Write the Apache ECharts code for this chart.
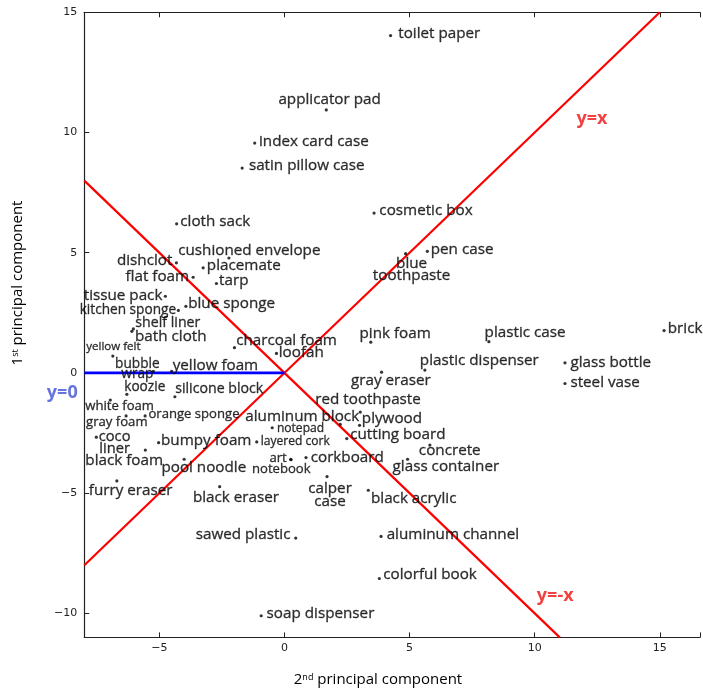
<!DOCTYPE html>
<html><head><meta charset="utf-8">
<script src="https://cdn.jsdelivr.net/npm/echarts@6/dist/echarts.min.js"></script>
<style>html,body{margin:0;padding:0;background:#fff}#c{width:703px;height:691px}</style>
</head><body><div id="c"></div>
<script>
// ---- data ----
const itemNames = [
  'toilet paper','applicator pad','index card case','satin pillow case','cosmetic box',
  'cloth sack','cushioned envelope','pen case','blue\ntoothpaste','dishclot',
  'placemate','flat foam','tarp','tissue pack','blue sponge',
  'kitchen sponge','shelf liner','bath cloth','pink foam','plastic case',
  'brick','charcoal foam','loofah','yellow felt','plastic dispenser',
  'glass bottle','gray eraser','bubble\nwrap','yellow foam','steel vase',
  'koozie','silicone block','white foam','red toothpaste','orange sponge',
  'gray foam','aluminum block','plywood','notepad','coco\nliner',
  'cutting board','layered cork','bumpy foam','concrete','black foam',
  'corkboard','art','notebook','glass container','pool noodle',
  'calper\ncase','furry eraser','black eraser','black acrylic','aluminum channel',
  'sawed plastic','colorful book','soap dispenser'
];
// 2nd principal component (x)
const pc2 = [
  4.24, 1.67, -1.19, -1.69, 3.58,
  -4.31, -2.22, 5.71, 4.84, -4.32,
  -3.25, -3.65, -2.72, -4.76, -3.94,
  -4.24, -6.04, -6.10, 3.45, 8.17,
  15.17, -2.00, -0.32, -6.86, 5.61,
  11.21, 3.88, -5.24, -4.51, 11.21,
  -6.30, -4.38, -6.96, 3.03, -5.57,
  -6.33, 2.23, 3.00, -0.49, -7.52,
  2.49, -1.11, -5.03, 5.81, -5.56,
  0.86, 0.25, 0.26, 4.92, -4.01,
  1.70, -6.70, -2.59, 3.35, 3.86,
  0.45, 3.79, -0.93
];
// 1st principal component (y)
const pc1 = [
  14.03, 10.94, 9.56, 8.52, 6.65,
  6.20, 4.78, 5.06, 4.96, 4.58,
  4.37, 3.98, 3.72, 3.19, 2.77,
  2.60, 1.83, 1.73, 1.28, 1.30,
  1.76, 1.05, 0.81, 0.70, 0.12,
  0.42, 0.03, 0.07, 0.07, -0.44,
  -0.89, -0.99, -1.13, -1.63, -1.79,
  -1.79, -2.14, -2.18, -2.28, -2.67,
  -2.73, -2.87, -2.90, -3.00, -3.21,
  -3.52, -3.59, -3.61, -3.59, -3.59,
  -4.31, -4.49, -4.73, -4.88, -6.80,
  -6.87, -8.55, -10.10
];
const lineYeqX = [[-8, -8], [15, 15]];
const lineYeqNegX = [[-8, 8], [11, -11]];
const lineY0 = [[-8, 0], [0, 0]];
const annoNames = ['y=x', 'y=-x', 'y=0'];
const annoX = [12.29, 10.82, -8.88];
const annoY = [10.57, -9.28, -0.85];

// ---- label placement (style, not data): [dx, dy, align, fontSize, lineHeight]
const place = {
  'toilet paper':[7.7,-2.4,'left',14.5],
  'applicator pad':[3.3,-10,'center',14.5],
  'index card case':[4.3,-1.6,'left',14.5],
  'satin pillow case':[6.7,-2.6,'left',14.5],
  'cosmetic box':[5.3,-2.3,'left',14.5],
  'cloth sack':[3.7,-2.3,'left',14.5],
  'cushioned envelope':[-50.7,-7.6,'left',14.5],
  'pen case':[3.4,-1.7,'left',14.5],
  'blue\ntoothpaste':[6,16,'center',14.5,12],
  'dishclot':[-4,-2.3,'right',14.5],
  'placemate':[3.7,-2.3,'left',14.5],
  'flat foam':[-4,-0.4,'right',14.5],
  'tarp':[2.7,-3,'left',14.5],
  'tissue pack':[-3,-1,'right',14.5],
  'blue sponge':[2.3,-2.4,'left',14.5],
  'kitchen sponge':[-2.3,-0.7,'right',13],
  'shelf liner':[2,-5.7,'left',13.5],
  'bath cloth':[3.2,5.2,'left',14.5],
  'pink foam':[-11.3,-8.4,'left',14.5],
  'plastic case':[-4.3,-9,'left',14.5],
  'brick':[3.7,-2,'left',14.5],
  'charcoal foam':[1.7,-6.6,'left',14.5],
  'loofah':[2.3,-0.7,'left',14.5],
  'yellow felt':[-26.6,-9.4,'left',11],
  'plastic dispenser':[-5,-9,'left',14.5],
  'glass bottle':[5.4,-0.6,'left',14.5],
  'gray eraser':[-30.6,8,'left',14.5],
  'bubble\nwrap':[-16,-1.7,'center',13,10],
  'yellow foam':[1,-6,'left',14.5],
  'steel vase':[5.4,-1.3,'left',14.5],
  'koozie':[-2.6,-7.7,'left',13],
  'silicone block':[0.3,-8,'left',13.5],
  'white foam':[-25,6,'left',12.5],
  'red toothpaste':[-45,-12,'left',14.5],
  'orange sponge':[3.3,-2,'left',12.5],
  'gray foam':[-40,6,'left',12.5],
  'aluminum block':[-95,-8,'left',14.5],
  'plywood':[2.3,-6.7,'left',14.5],
  'notepad':[4.7,0.7,'left',11.5],
  'coco\nliner':[18.3,5.6,'center',14,12],
  'cutting board':[3.4,-3.6,'left',14.5],
  'layered cork':[4,-0.4,'left',11.5],
  'bumpy foam':[2.4,-1.6,'left',14.5],
  'concrete':[-11,6,'left',14.5],
  'black foam':[-60,10.3,'left',14.5],
  'corkboard':[4.7,-0.3,'left',14.5],
  'art':[-4,-1,'right',12.5],
  'notebook':[-39,9.5,'left',12.5],
  'glass container':[-15,7.7,'left',14.5],
  'pool noodle':[-22.7,8.3,'left',14.5],
  'calper\ncase':[3,18.3,'center',14.5,13],
  'furry eraser':[-28,9.3,'left',14.5],
  'black eraser':[-26.7,11,'left',14.5],
  'black acrylic':[2.7,8,'left',14.5],
  'aluminum channel':[5.6,-1.3,'left',14.5],
  'sawed plastic':[-5.3,-3.3,'right',14.5],
  'colorful book':[4,-4.3,'left',14.5],
  'soap dispenser':[5.4,-2.4,'left',14.5]
};
const FONT_SCALE = 1.05;
const annoStyle = {
  'y=x':{color:'#ee1111',size:18},
  'y=-x':{color:'#ee1111',size:18},
  'y=0':{color:'#3f51d6',size:18}
};

const FONT = '"Open Sans", "Noto Sans", sans-serif';
const pointData = itemNames.map((n, i) => {
  const p = place[n] || [4, 0, 'left', 14.5];
  const lbl = {
    show: true, position: 'inside', offset: [p[0], p[1]], align: p[2],
    verticalAlign: 'middle', fontSize: p[3] * FONT_SCALE, fontFamily: FONT, color: '#000',
    textBorderWidth: 0.35, textBorderColor: '#222', formatter: n
  };
  if (p[4]) lbl.lineHeight = p[4];
  return { name: n, value: [pc2[i], pc1[i]], label: lbl };
});
const annoData = annoNames.map((n, i) => ({
  name: n, value: [annoX[i], annoY[i]],
  label: { show: true, position: 'inside', formatter: n, color: annoStyle[n].color,
    fontSize: annoStyle[n].size, fontWeight: 'bold', fontFamily: FONT,
    textBorderWidth: 0, align: 'center', verticalAlign: 'middle' }
}));

const fmt = v => (Math.abs(v % 5) > 1e-9) ? '' : (v < 0 ? '\u2212' + Math.abs(v) : String(v));
const tickLabel = { fontSize: 11, color: '#222', fontFamily: '"DejaVu Sans", sans-serif', formatter: fmt };

const chart = echarts.init(document.getElementById('c'), null, { renderer: 'canvas' });
chart.setOption({
  animation: false,
  backgroundColor: '#fff',
  grid: { left: 84.3, top: 12.3, right: 0, height: 625.1, containLabel: false },
  xAxis: [
    { type: 'value', min: -8, max: 16.606, position: 'bottom', splitNumber: 5,
      axisLine: { show: true, onZero: false, lineStyle: { color: '#222', width: 1.2 } },
      axisTick: { show: true, inside: true, length: 5, lineStyle: { color: '#222' } },
      axisLabel: Object.assign({ margin: 5 }, tickLabel),
      splitLine: { show: false } },
    { type: 'value', min: -8, max: 16.606, position: 'top', splitNumber: 5,
      axisLine: { show: true, onZero: false, lineStyle: { color: '#222', width: 1.2 } },
      axisTick: { show: true, inside: true, length: 5, lineStyle: { color: '#222' } },
      axisLabel: { show: false }, splitLine: { show: false } }
  ],
  yAxis: [
    { type: 'value', min: -11, max: 15, position: 'left', splitNumber: 5,
      axisLine: { show: true, onZero: false, lineStyle: { color: '#222', width: 1.2 } },
      axisTick: { show: true, inside: true, length: 5, lineStyle: { color: '#222' } },
      axisLabel: Object.assign({ margin: 7 }, tickLabel),
      splitLine: { show: false } }
  ],
  series: [
    { type: 'line', data: lineYeqX, symbol: 'none', lineStyle: { color: '#ff0000', width: 2.2 }, z: 3 },
    { type: 'line', data: lineYeqNegX, symbol: 'none', lineStyle: { color: '#ff0000', width: 2.2 }, z: 3 },
    { type: 'line', data: lineY0, symbol: 'none', lineStyle: { color: '#0000ff', width: 2.8 }, z: 3 },
    { type: 'scatter', data: pointData, symbol: 'circle', symbolSize: 3.2,
      itemStyle: { color: '#000' }, z: 4, clip: false },
    { type: 'scatter', data: annoData, symbolSize: 0, clip: false, z: 5 }
  ],
  graphic: [
    { type: 'text', x: 18, y: 283, rotation: Math.PI / 2,
      style: { text: '{n|1}{s|st}{n| principal component}', align: 'center', verticalAlign: 'middle',
        rich: { n: { fontSize: 15, fontFamily: FONT, fill: '#000', color: '#000' },
                s: { fontSize: 9, fontFamily: FONT, fill: '#000', color: '#000', verticalAlign: 'top' } } } },
    { type: 'text', x: 378, y: 680,
      style: { text: '{n|2}{s|nd}{n| principal component}', align: 'center', verticalAlign: 'middle',
        rich: { n: { fontSize: 15, fontFamily: FONT, fill: '#000', color: '#000' },
                s: { fontSize: 9, fontFamily: FONT, fill: '#000', color: '#000', verticalAlign: 'top' } } } }
  ]
});
</script></body></html>
